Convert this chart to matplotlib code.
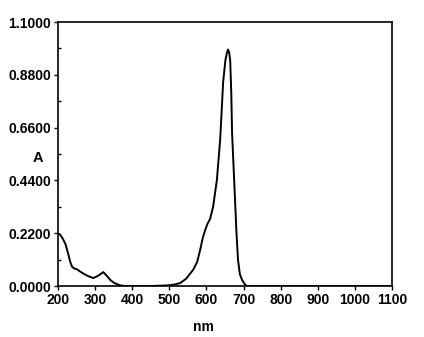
import matplotlib
matplotlib.use("Agg")
import matplotlib.pyplot as plt
import numpy as np

plt.rcParams['font.family'] = ['Liberation Sans', 'DejaVu Sans']

wavelength = [200, 205, 212, 220, 227, 233, 238, 245, 251, 258, 268, 280, 295, 305, 315, 322, 330, 341, 352, 367, 380, 400,
              450, 490, 510, 529, 545, 564, 575, 583, 590, 596, 603, 610, 618, 628, 637, 645, 651, 655, 658, 661, 664,
              667, 669, 673, 677, 681, 685, 690, 696, 703, 709, 720, 800, 900, 1000, 1100]
absorbance = [0.22, 0.215, 0.20, 0.175, 0.137, 0.10, 0.08, 0.072, 0.07, 0.062, 0.052, 0.042, 0.033, 0.04, 0.05, 0.058,
              0.045, 0.025, 0.012, 0.003, 0.0, 0.0,
              0.0, 0.002, 0.005, 0.012, 0.03, 0.067, 0.10, 0.15, 0.20, 0.23, 0.26, 0.28, 0.33, 0.44, 0.61, 0.85, 0.94,
              0.97, 0.985, 0.975, 0.94, 0.80, 0.64, 0.50, 0.36, 0.22, 0.11, 0.05, 0.025, 0.008, 0.0, 0.0, 0.0, 0.0, 0.0, 0.0]

x_ticks = [200, 300, 400, 500, 600, 700, 800, 900, 1000, 1100]
y_ticks = [0.0, 0.22, 0.44, 0.66, 0.88, 1.10]
y_tick_labels = ["0.0000", "0.2200", "0.4400", "0.6600", "0.8800", "1.1000"]

fig = plt.figure(figsize=(4.24, 3.37), dpi=100)
ax = fig.add_axes([58/424, 1 - 286/337, (392-58)/424, (286-22)/337])

ax.plot(wavelength, absorbance, color='black', lw=1.4)

ax.set_xlim(200, 1100)
ax.set_ylim(0, 1.1)
ax.set_xticks(x_ticks)
ax.set_yticks(y_ticks)
ax.set_yticklabels(y_tick_labels)
ax.set_yticks([0.11, 0.33, 0.55, 0.77, 0.99], minor=True)

for s in ax.spines.values():
    s.set_linewidth(1.2)

ax.tick_params(axis='both', which='major', direction='out', length=3, width=1, labelsize=10, pad=2)
ax.tick_params(axis='y', which='minor', direction='in', length=2, width=1)
for lab in ax.get_xticklabels() + ax.get_yticklabels():
    lab.set_fontweight('bold')

ax.set_xlabel('nm', fontsize=10, fontweight='bold', labelpad=4)
ax.xaxis.set_label_coords((203-58)/(392-58), -0.13)
fig.text(38/424, 1 - 158/337, 'A', fontsize=10.5, fontweight='bold', ha='center', va='center')

fig.savefig('out.png', dpi=100)
